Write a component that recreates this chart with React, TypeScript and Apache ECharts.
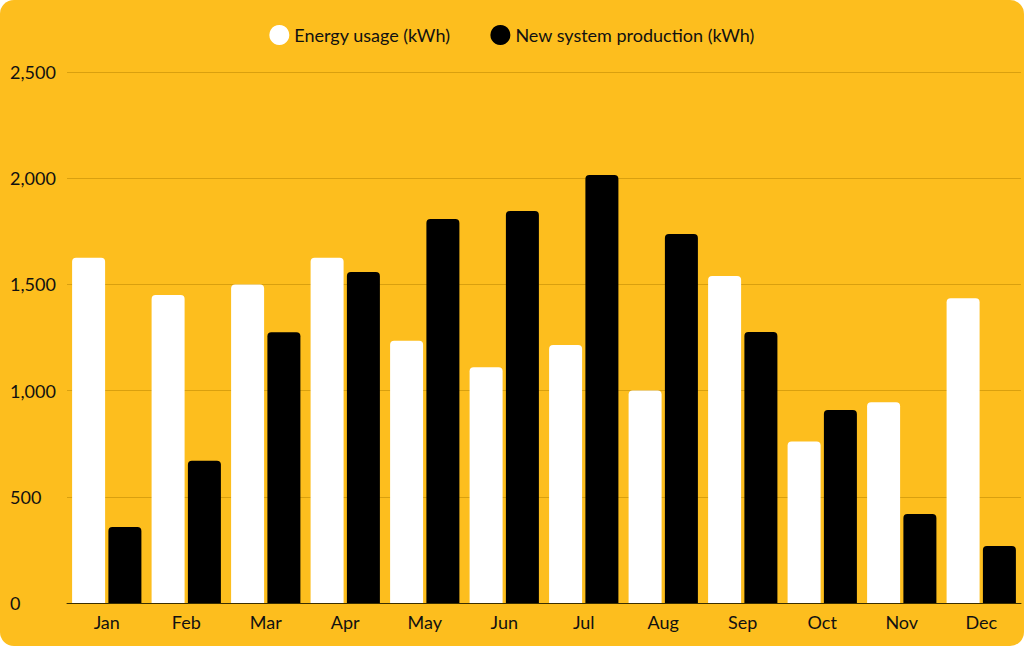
import React, { useEffect, useRef } from "react";
import * as echarts from "echarts";

const months = ["Jan","Feb","Mar","Apr","May","Jun","Jul","Aug","Sep","Oct","Nov","Dec"];
const usage = [1625,1450,1500,1625,1235,1110,1215,1000,1540,760,945,1435];
const production = [358,670,1275,1558,1808,1845,2015,1737,1276,909,419,268];

export default function App() {
  const ref = useRef<HTMLDivElement>(null);
  useEffect(() => {
    const chart = echarts.init(ref.current!, undefined, { renderer: "svg" });
    const font = "Lato";
    chart.setOption({
      animation: false,
      backgroundColor: "transparent",
      textStyle: { fontFamily: font },
      legend: {
        top: 20, left: "center", icon: "circle", itemWidth: 20, itemHeight: 20, itemGap: 40,
        textStyle: { fontSize: 18, color: "#111", fontFamily: font },
        data: ["Energy usage (kWh)", "New system production (kWh)"],
      },
      grid: { left: 67, right: 3, top: 72, bottom: 43 },
      xAxis: {
        type: "category", data: months,
        axisLine: { lineStyle: { color: "#3a2e00" } },
        axisTick: { show: false },
        axisLabel: { fontSize: 18, color: "#111", margin: 10 },
      },
      yAxis: {
        type: "value", min: 0, max: 2500, interval: 500,
        axisLabel: { fontSize: 18, color: "#111", align: "left", margin: 57 },
        splitLine: { lineStyle: { color: "#d9a00f" } },
      },
      series: [
        { name: "Energy usage (kWh)", type: "bar", data: usage, barWidth: 33, barGap: "10%",
          itemStyle: { color: "#ffffff", borderRadius: [4, 4, 0, 0] } },
        { name: "New system production (kWh)", type: "bar", data: production, barWidth: 33,
          itemStyle: { color: "#000000", borderRadius: [4, 4, 0, 0] } },
      ],
    });
    return () => chart.dispose();
  }, []);
  return (
    <div style={{ position: "fixed", left: 0, top: 0, width: 1024, height: 646, background: "#FDBE1E", borderRadius: 14, overflow: "hidden" }}>
      <div ref={ref} style={{ width: 1024, height: 646 }} />
    </div>
  );
}
